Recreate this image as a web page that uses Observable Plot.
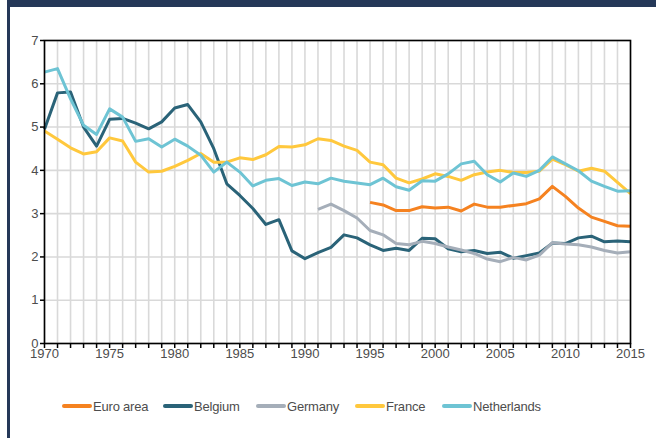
<!DOCTYPE html>
<html>
<head>
<meta charset="utf-8">
<script src="https://cdn.jsdelivr.net/npm/d3@7"></script>
<script src="https://cdn.jsdelivr.net/npm/@observablehq/plot@0.6"></script>
<style>
  html, body { margin: 0; padding: 0; background: #fff; }
  #wrap { position: relative; width: 656px; height: 438px; overflow: hidden; background: #fff; }
  #topband { position: absolute; left: 7px; top: 0; width: 649px; height: 7px; background: #253858; }
  #leftband { position: absolute; left: 7px; top: 0; width: 3px; height: 438px; background: #253858; }
  #chart { position: absolute; left: 0; top: 0; }
  #chart svg text { font-family: "Liberation Sans", Arial, sans-serif; }
  #legend { position: absolute; left: 0; top: 397px; width: 656px; height: 20px;
    font-family: "Liberation Sans", Arial, sans-serif; font-size: 13px; color: #4d4d4d; letter-spacing: -0.2px; }
  .item { position: absolute; top: 0; display: flex; align-items: center; height: 18px; }
  .sw { width: 30px; height: 4px; border-radius: 2px; margin-right: 1px; }
</style>
</head>
<body>
<div id="wrap">
  <div id="chart"></div>
  <div id="topband"></div>
  <div id="leftband"></div>
  <div id="legend"></div>
</div>
<script>
const seriesNames = ["Euro area", "Belgium", "Germany", "France", "Netherlands"];
const seriesColors = ["#F58220", "#2A6378", "#A5AEB9", "#FFC83D", "#6EC4D4"];
const allYears = d3.range(1970, 2016);
const yTicks = [0, 1, 2, 3, 4, 5, 6, 7];
const xLabelTicks = [1970, 1975, 1980, 1985, 1990, 1995, 2000, 2005, 2010, 2015];

const euroStart = 1995;
const euroArea = [3.26, 3.2, 3.07, 3.07, 3.16, 3.13, 3.15, 3.06, 3.22, 3.15, 3.15, 3.19, 3.23, 3.34, 3.63, 3.4, 3.13, 2.92, 2.82, 2.72, 2.71];

const belgiumStart = 1970;
const belgium = [4.95, 5.79, 5.81, 5.0, 4.56, 5.18, 5.2, 5.09, 4.96, 5.12, 5.44, 5.52, 5.12, 4.5, 3.69, 3.42, 3.12, 2.75, 2.86, 2.14, 1.96, 2.1, 2.22, 2.51, 2.44, 2.28, 2.15, 2.2, 2.15, 2.43, 2.42, 2.19, 2.12, 2.15, 2.08, 2.11, 1.97, 2.03, 2.09, 2.32, 2.31, 2.44, 2.48, 2.35, 2.37, 2.35];

const germanyStart = 1991;
const germany = [3.1, 3.22, 3.07, 2.9, 2.61, 2.51, 2.31, 2.28, 2.36, 2.31, 2.23, 2.16, 2.08, 1.95, 1.89, 1.99, 1.93, 2.04, 2.33, 2.3, 2.28, 2.23, 2.15, 2.09, 2.12];

const franceStart = 1970;
const france = [4.91, 4.72, 4.52, 4.38, 4.43, 4.75, 4.68, 4.19, 3.96, 3.98, 4.09, 4.23, 4.39, 4.19, 4.19, 4.29, 4.25, 4.36, 4.55, 4.54, 4.59, 4.73, 4.69, 4.56, 4.46, 4.19, 4.13, 3.82, 3.71, 3.8, 3.92, 3.86, 3.77, 3.9, 3.96, 4.0, 3.95, 3.95, 3.98, 4.26, 4.13, 3.98, 4.05, 3.98, 3.72, 3.46];

const netherlandsStart = 1970;
const netherlands = [6.27, 6.35, 5.65, 5.04, 4.83, 5.42, 5.23, 4.67, 4.73, 4.54, 4.72, 4.56, 4.35, 3.96, 4.19, 3.96, 3.64, 3.77, 3.81, 3.65, 3.73, 3.69, 3.82, 3.75, 3.71, 3.67, 3.82, 3.62, 3.54, 3.76, 3.75, 3.92, 4.15, 4.21, 3.9, 3.73, 3.94, 3.86, 4.0, 4.31, 4.15, 3.99, 3.75, 3.63, 3.52, 3.53];

const raw = [
  [euroStart, euroArea], [belgiumStart, belgium], [germanyStart, germany],
  [franceStart, france], [netherlandsStart, netherlands]
];
const rows = [];
raw.forEach(([start, vals], i) => {
  vals.forEach((v, j) => rows.push({series: seriesNames[i], year: start + j, value: v}));
});

const chart = Plot.plot({
  width: 656,
  height: 372,
  marginLeft: 44,
  marginRight: 26,
  marginTop: 40,
  marginBottom: 29,
  style: {background: "transparent", color: "#4d4d4d"},
  x: {domain: [1970, 2015]},
  y: {domain: [0, 7]},
  color: {domain: seriesNames, range: seriesColors},
  marks: [
    Plot.ruleX(allYears, {x: d => d, stroke: "#d9d9d9", strokeWidth: 1.6}),
    Plot.ruleY(yTicks, {y: d => d, stroke: "#d9d9d9", strokeWidth: 1.6}),
    Plot.lineY(rows, {x: "year", y: "value", z: "series", stroke: "series", strokeWidth: 3, strokeLinejoin: "round", strokeLinecap: "butt"}),
    Plot.frame({stroke: "#000", strokeWidth: 1.6}),
    Plot.axisY({ticks: yTicks, tickSize: 4, tickPadding: 2, tickFormat: d3.format("d"), fontSize: 13, stroke: "#000", strokeWidth: 1.5, label: null}),
    Plot.axisX({ticks: allYears, tickSize: 5, tickFormat: () => "", stroke: "#000", strokeWidth: 1.5, label: null}),
    Plot.axisX({ticks: xLabelTicks, tickSize: 0, tickPadding: 5, tickFormat: d3.format("d"), fontSize: 13, label: null})
  ]
});
document.getElementById("chart").appendChild(chart);

const legendX = [62, 163, 256, 355, 442];
const legend = document.getElementById("legend");
seriesNames.forEach((name, i) => {
  const item = document.createElement("div");
  item.className = "item";
  item.style.left = legendX[i] + "px";
  const sw = document.createElement("div");
  sw.className = "sw";
  sw.style.background = seriesColors[i];
  const t = document.createElement("span");
  t.textContent = name;
  item.appendChild(sw);
  item.appendChild(t);
  legend.appendChild(item);
});
</script>
</body>
</html>
